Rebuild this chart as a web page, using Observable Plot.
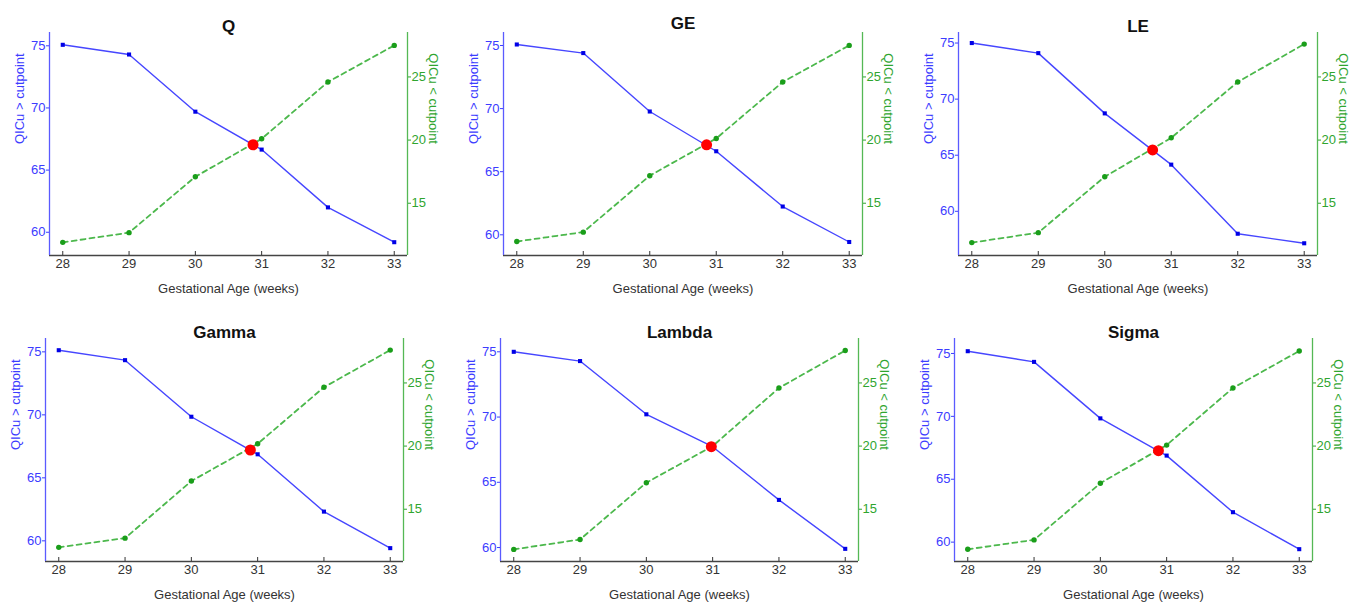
<!DOCTYPE html>
<html>
<head>
<meta charset="utf-8">
<script src="https://cdn.jsdelivr.net/npm/d3@7"></script>
<script src="https://cdn.jsdelivr.net/npm/@observablehq/plot@0.6"></script>
<style>
  html, body { margin: 0; padding: 0; background: #fff; }
  #wrap { position: relative; width: 1355px; height: 603px; overflow: hidden; background: #fff; }
  #wrap > div { position: absolute; }
</style>
</head>
<body>
<div id="wrap"></div>
<script>
// ---------- data ----------
const weeks = [28, 29, 30, 31, 32, 33];
const titles = ["Q", "GE", "LE", "Gamma", "Lambda", "Sigma"];

const aboveQ      = [75.08, 74.30, 69.70, 66.65, 62.00, 59.20];
const belowQ      = [11.90, 12.67, 17.10, 20.10, 24.60, 27.50];
const aboveGE     = [75.08, 74.40, 69.77, 66.62, 62.24, 59.43];
const belowGE     = [11.97, 12.71, 17.18, 20.13, 24.60, 27.50];
const aboveLE     = [75.00, 74.10, 68.73, 64.16, 58.00, 57.15];
const belowLE     = [11.88, 12.67, 17.10, 20.18, 24.60, 27.60];
const aboveGamma  = [75.13, 74.34, 69.85, 66.87, 62.32, 59.42];
const belowGamma  = [11.98, 12.71, 17.23, 20.18, 24.66, 27.60];
const aboveLambda = [75.00, 74.29, 70.21, 67.73, 63.65, 59.90];
const belowLambda = [11.82, 12.60, 17.10, 20.00, 24.60, 27.57];
const aboveSigma  = [75.18, 74.33, 69.84, 66.88, 62.38, 59.44];
const belowSigma  = [11.83, 12.57, 17.06, 20.08, 24.60, 27.53];

// cutpoint (crossing) per panel
const cutWeek  = [30.87, 30.855, 30.72, 30.89, 30.98, 30.876];
const cutValue = [67.04, 67.13, 65.47, 67.21, 67.73, 67.27];

const leftTicks  = [60, 65, 70, 75];
const rightTicks = [15, 20, 25];

// scale domains
const leftDomains = [[58.13, 76.07], [58.36, 76.03], [56.06, 75.94], [58.36, 76.06], [58.93, 76.02], [58.46, 76.19]];
const rightDomain = [10.86, 28.52];
const xDomain = [27.8, 33.2];

// ---------- layout ----------
const layout = [
  {left: 0,   top: 0,   w: 450, ml: 49, mr: 43, tdy: -6},
  {left: 450, top: 0,   w: 450, ml: 53, mr: 38, tdy: -9},
  {left: 900, top: 0,   w: 455, ml: 58, mr: 38, tdy: -6},
  {left: 0,   top: 306, w: 450, ml: 45, mr: 47, tdy: -6},
  {left: 450, top: 306, w: 450, ml: 50, mr: 42, tdy: -6},
  {left: 900, top: 306, w: 450, ml: 54, mr: 38, tdy: -6}
];

const aboveAll = [aboveQ, aboveGE, aboveLE, aboveGamma, aboveLambda, aboveSigma];
const belowAll = [belowQ, belowGE, belowLE, belowGamma, belowLambda, belowSigma];

const BLUE = "#4646ff", BLUE_DARK = "#0000e6", BLUE_AX = "#5a5aff", BLUE_TXT = "#3c3cff";
const GREEN = "#4cb84c", GREEN_DARK = "#1a9e1a", GREEN_AX = "#55b855", GREEN_TXT = "#2fa52f";
const GRAY = "#333";
const FS = 13;

function panel(i) {
  const [l0, l1] = leftDomains[i];
  const [r0, r1] = rightDomain;
  const toL = v => l0 + (v - r0) * (l1 - l0) / (r1 - r0);
  const fromL = v => r0 + (v - l0) * (r1 - r0) / (l1 - l0);
  const rows = weeks.map((w, k) => ({w, a: aboveAll[i][k], b: toL(belowAll[i][k])}));
  const lay = layout[i];
  return Plot.plot({
    width: lay.w, height: 297,
    marginLeft: lay.ml, marginRight: lay.mr, marginTop: 32, marginBottom: 42,
    style: {fontFamily: "'Liberation Sans', Arial, Helvetica, sans-serif", fontSize: FS + "px", background: "white", overflow: "visible"},
    x: {domain: xDomain},
    y: {domain: leftDomains[i]},
    marks: [
      Plot.ruleY([l0], {stroke: "#444", strokeWidth: 1.3}),
      Plot.ruleX([xDomain[0]], {stroke: BLUE_AX, strokeWidth: 1.3}),
      Plot.ruleX([xDomain[1]], {stroke: GREEN_AX, strokeWidth: 1.3}),
      Plot.axisX({ticks: weeks, tickFormat: d => d, tickSize: -4, tickPadding: 7, color: GRAY, label: null, fontSize: FS}),
      Plot.axisY({anchor: "left", ticks: leftTicks, tickFormat: d => d, tickSize: 3, tickPadding: 1, color: BLUE_TXT, label: null, fontSize: FS}),
      Plot.axisY({anchor: "right", ticks: rightTicks.map(toL), tickFormat: d => Math.round(fromL(d)), tickSize: 3, tickPadding: 1, color: GREEN_TXT, label: null, fontSize: FS}),
      Plot.line(rows, {x: "w", y: "b", stroke: GREEN, strokeWidth: 1.8, strokeDasharray: "5,4"}),
      Plot.dot(rows, {x: "w", y: "b", r: 2.7, fill: GREEN_DARK, stroke: null}),
      Plot.line(rows, {x: "w", y: "a", stroke: BLUE, strokeWidth: 1.4}),
      Plot.dot(rows, {x: "w", y: "a", symbol: "square", r: 2.3, fill: BLUE_DARK, stroke: null}),
      Plot.dot([{w: cutWeek[i], v: cutValue[i]}], {x: "w", y: "v", r: 5.5, fill: "#ff0000", stroke: null}),
      Plot.text([titles[i]], {frameAnchor: "top", lineAnchor: "middle", dy: lay.tdy, fontWeight: "bold", fontSize: 17, fill: "#111"}),
      Plot.text(["QICu > cutpoint"], {frameAnchor: "left", dx: -30, rotate: -90, fill: BLUE_TXT, fontSize: FS}),
      Plot.text(["QICu < cutpoint"], {frameAnchor: "right", dx: 26, rotate: 90, fill: GREEN_TXT, fontSize: FS}),
      Plot.text(["Gestational Age (weeks)"], {frameAnchor: "bottom", lineAnchor: "middle", dy: 33, fill: GRAY, fontSize: FS})
    ]
  });
}

const wrap = document.getElementById("wrap");
titles.forEach((t, i) => {
  const d = document.createElement("div");
  d.style.left = layout[i].left + "px";
  d.style.top = layout[i].top + "px";
  d.appendChild(panel(i));
  wrap.appendChild(d);
});
</script>
</body>
</html>
